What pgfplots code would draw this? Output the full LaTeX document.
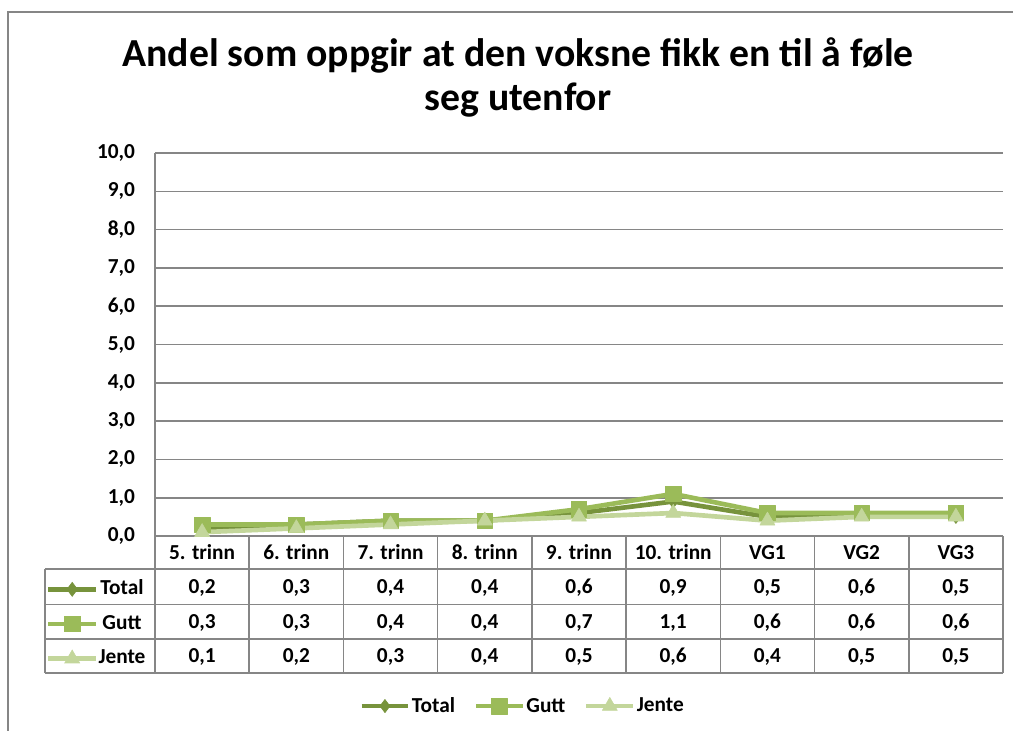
\documentclass[border=0pt]{standalone}
\usepackage{pgfplots}
\pgfplotsset{compat=1.18}
\usepackage{fontspec}
\setmainfont{Carlito}
\definecolor{cTotal}{HTML}{77933C}
\definecolor{cGutt}{HTML}{9BBB59}
\definecolor{cJente}{HTML}{C3D69B}
\definecolor{cGrid}{HTML}{868686}
\newcommand{\tf}{\bfseries\fontsize{16}{18}\selectfont}
\begin{document}
\begin{tikzpicture}[x=0.75pt,y=0.75pt]
\path[use as bounding box] (0,0) rectangle (1013,-731);
\draw[cGrid, line width=1.5pt] (8,-731) -- (8,-12) -- (1013,-12);
\node[font=\bfseries\fontsize{29.8}{32}\selectfont, anchor=base] at (518,-67) {Andel som oppgir at den voksne fikk en til å føle};
\node[font=\bfseries\fontsize{29.8}{32}\selectfont, anchor=base] at (518,-111) {seg utenfor};

\begin{axis}[at={(116.25pt,-402pt)}, anchor=south west,
  width=636pt, height=287.25pt, scale only axis,
  xmin=0.5, xmax=9.5, ymin=0, ymax=10,
  ytick={0,1,...,10}, xtick=\empty,
  ymajorgrids, grid style={cGrid, line width=1.2pt},
  axis x line*=bottom, axis y line*=left,
  axis line style={cGrid, line width=1.2pt, -},
  major tick length=0pt,
  clip=false,
  yticklabel style={font=\tf, xshift=-11.5pt,
    /pgf/number format/fixed, /pgf/number format/fixed zerofill,
    /pgf/number format/precision=1, /pgf/number format/use comma,
    /pgf/number format/assume math mode=true},
  legend columns=3,
  legend style={at={(0.4330,-0.4440)}, anchor=center, draw=none, fill=none,
    font=\tf, nodes={inner xsep=1pt},
    /tikz/every even column/.append style={column sep=13pt}},
  legend image code/.code={\draw[mark repeat=2,mark phase=2,#1] plot coordinates {(0pt,0pt) (17.5pt,0pt) (35pt,0pt)};},
]
\addplot[cTotal, line width=3.5pt, line join=round, mark=diamond*, mark size=5pt, mark options={solid, line width=0.4pt}]
  coordinates {(1,0.2)(2,0.3)(3,0.4)(4,0.4)(5,0.6)(6,0.9)(7,0.5)(8,0.6)(9,0.5)};
\addlegendentry{Total}
\addplot[cGutt, line width=3.5pt, line join=round, mark=square*, mark size=5.8pt, mark options={solid, line width=0.4pt}]
  coordinates {(1,0.3)(2,0.3)(3,0.4)(4,0.4)(5,0.7)(6,1.1)(7,0.6)(8,0.6)(9,0.6)};
\addlegendentry{Gutt}
\addplot[cJente, line width=3.5pt, line join=round, mark=triangle*, mark size=6.5pt, mark options={solid, line width=0.4pt}]
  coordinates {(1,0.1)(2,0.2)(3,0.3)(4,0.4)(5,0.5)(6,0.6)(7,0.4)(8,0.5)(9,0.5)};
\addlegendentry{Jente}
\end{axis}

\begin{axis}[at={(116.25pt,-402pt)}, anchor=south west,
  width=636pt, height=287.25pt, scale only axis, hide axis,
  xmin=0, xmax=1, ymin=0, ymax=1,
  legend columns=1,
  legend style={at={(-0.1290,-0.2297)}, anchor=west, draw=none, fill=none, inner sep=0pt,
    font=\tf, row sep=12pt, nodes={text height=11pt, text depth=3pt, inner ysep=0pt, inner xsep=0pt}},
  legend image code/.code={\draw[mark repeat=2,mark phase=2,#1] plot coordinates {(0pt,0pt) (18pt,0pt) (36pt,0pt)};},
]
\addlegendimage{cTotal, line width=3.5pt, mark=diamond*, mark size=5.3pt, mark options={solid, line width=0.4pt}}
\addlegendentry{Total}
\addlegendimage{cGutt, line width=3.5pt, mark=square*, mark size=5.8pt, mark options={solid, line width=0.4pt}}
\addlegendentry{Gutt}
\addlegendimage{cJente, line width=3.5pt, mark=triangle*, mark size=6.5pt, mark options={solid, line width=0.4pt}}
\addlegendentry{Jente}
\end{axis}

% data table grid
\foreach \k in {0,...,9} \draw[cGrid, line width=1.2pt] ({155+\k*94.222},-536) -- ({155+\k*94.222},-673);
\foreach \yy in {569,604.5,639,673} \draw[cGrid, line width=1.2pt] (45,-\yy) -- (1003,-\yy);
\draw[cGrid, line width=1.2pt] (45,-569) -- (45,-673);
\foreach \lab [count=\i from 0] in {5. trinn,6. trinn,7. trinn,8. trinn,9. trinn,10. trinn,VG1,VG2,VG3}
  \node[font=\tf, anchor=base] at ({155+94.222*\i+47.11},-559) {\lab};
\foreach \v [count=\i from 0] in {{0,2},{0,3},{0,4},{0,4},{0,6},{0,9},{0,5},{0,6},{0,5}}
  \node[font=\tf, anchor=base] at ({155+94.222*\i+47.11},-593) {\v};
\foreach \v [count=\i from 0] in {{0,3},{0,3},{0,4},{0,4},{0,7},{1,1},{0,6},{0,6},{0,6}}
  \node[font=\tf, anchor=base] at ({155+94.222*\i+47.11},-628) {\v};
\foreach \v [count=\i from 0] in {{0,1},{0,2},{0,3},{0,4},{0,5},{0,6},{0,4},{0,5},{0,5}}
  \node[font=\tf, anchor=base] at ({155+94.222*\i+47.11},-662) {\v};
\end{tikzpicture}
\end{document}
